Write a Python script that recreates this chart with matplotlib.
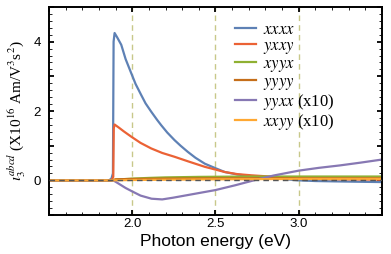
import matplotlib
matplotlib.use("Agg")
import matplotlib.pyplot as plt
from matplotlib.ticker import MultipleLocator, FixedLocator, FuncFormatter

plt.rcParams['mathtext.fontset'] = 'stix'

# ---- data ----
e_xxxx = [1.50, 1.86, 1.875, 1.884, 1.888, 1.894, 1.91, 1.934, 1.96, 1.994, 2.02, 2.054, 2.08,
          2.114, 2.15, 2.174, 2.21, 2.254, 2.29, 2.334, 2.38, 2.436, 2.50, 2.556, 2.63, 2.716,
          2.856, 3.00, 3.10, 3.216, 3.35, 3.50]
v_xxxx = [0.0, 0.0, 0.05, 0.2, 4.0, 4.25, 4.12, 3.91, 3.5, 3.09, 2.78, 2.46, 2.22,
          1.98, 1.74, 1.59, 1.38, 1.16, 1.0, 0.82, 0.65, 0.48, 0.35, 0.24, 0.17, 0.12,
          0.06, 0.0, -0.02, -0.03, -0.04, -0.05]

e_yxxy = [1.50, 1.875, 1.886, 1.889, 1.894, 1.92, 1.95, 1.994, 2.05, 2.114, 2.18, 2.254,
          2.334, 2.436, 2.556, 2.63, 2.716, 2.856, 3.00, 3.25, 3.50]
v_yxxy = [0.0, 0.0, 0.1, 1.5, 1.61, 1.52, 1.41, 1.26, 1.08, 0.92, 0.79, 0.68,
          0.55, 0.39, 0.24, 0.18, 0.145, 0.10, 0.05, 0.03, 0.02]

e_xyyx = [1.50, 1.88, 1.90, 2.00, 2.10, 2.20, 2.40, 2.70, 3.00, 3.50]
v_xyyx = [0.0, 0.0, 0.02, 0.05, 0.07, 0.085, 0.10, 0.11, 0.11, 0.11]

e_yyyy = [1.50, 1.88, 1.90, 2.00, 2.20, 2.50, 3.00, 3.50]
v_yyyy = [0.0, 0.0, 0.03, 0.04, 0.05, 0.06, 0.06, 0.06]

e_yyxx = [1.50, 1.886, 1.92, 1.96, 2.00, 2.05, 2.116, 2.18, 2.246, 2.35, 2.50, 2.62,
          2.746, 2.85, 3.00, 3.12, 3.246, 3.37, 3.50]
v_yyxx = [0.0, 0.0, -0.10, -0.22, -0.32, -0.44, -0.53, -0.55, -0.50, -0.41, -0.28, -0.14,
          0.02, 0.14, 0.28, 0.36, 0.43, 0.51, 0.60]

e_xxyy = [1.50, 1.88, 2.00, 2.50, 3.00, 3.50]
v_xxyy = [0.0, 0.0, 0.01, 0.03, 0.04, 0.04]

labels = [r'$xxxx$', r'$yxxy$', r'$xyyx$', r'$yyyy$', r'$yyxx$ (x10)', r'$xxyy$ (x10)']
colors = ['#5E81B5', '#EB6235', '#8FB032', '#C56E1A', '#8778B3', '#FFA832']
vlines_x = [2.0, 2.5, 3.0]

fig = plt.figure(figsize=(3.91, 2.54), dpi=100)
ax = fig.add_axes([0.1253, 0.1535, 0.977 - 0.1253, 0.9724 - 0.1535])

series = [(e_xxxx, v_xxxx), (e_yxxy, v_yxxy), (e_xyyx, v_xyyx),
          (e_yyyy, v_yyyy), (e_yyxx, v_yyxx), (e_xxyy, v_xxyy)]
for (e, v), lab, c in zip(series, labels, colors):
    ax.plot(e, v, color=c, lw=1.6, label=lab, solid_joinstyle='round')

for xv in vlines_x:
    ax.axvline(xv, color='#C8C88A', lw=1.0, dashes=(4, 3), zorder=0.5)
ax.axhline(0, color='#555555', lw=1.0, dashes=(4, 3), zorder=5)

ax.set_xlim(1.5, 3.5)
ax.set_ylim(-1, 5)

ax.xaxis.set_major_locator(FixedLocator([1.5, 2.0, 2.5, 3.0, 3.5]))
ax.xaxis.set_major_formatter(FuncFormatter(lambda v, p: '' if v < 1.9 or v > 3.1 else f'{v:.1f}'))
ax.xaxis.set_minor_locator(MultipleLocator(0.1))
ax.yaxis.set_major_locator(MultipleLocator(1))
ax.yaxis.set_major_formatter(FuncFormatter(lambda v, p: f'{int(round(v))}' if int(round(v)) % 2 == 0 and v >= -0.1 else ''))
ax.yaxis.set_minor_locator(MultipleLocator(0.2))

ax.tick_params(which='both', direction='in', top=True, right=True)
ax.tick_params(which='major', length=3.5, width=1.3, labelsize=9.5, pad=2)
ax.tick_params(axis='y', which='major', pad=6)
ax.tick_params(which='minor', length=2, width=0.6)
for lab in ax.get_xticklabels() + ax.get_yticklabels():
    lab.set_fontfamily('Liberation Sans')
for s in ax.spines.values():
    s.set_linewidth(1.4)

ax.set_xlabel('Photon energy (eV)', fontsize=12.5, family='Liberation Sans', labelpad=3)
ax.set_ylabel(r'$\iota_3^{abcd}$ (X10$^{16}$ Am/V$^3$s$^2$)', fontsize=11,
              family='Liberation Serif', labelpad=4)

leg = ax.legend(loc='upper left', bbox_to_anchor=(0.56, 0.93), frameon=False,
                prop={'family': 'Liberation Serif', 'size': 12},
                handlelength=1.25, handletextpad=0.4, labelspacing=0.0,
                borderpad=0, borderaxespad=0)

fig.savefig('out.png', dpi=100)
